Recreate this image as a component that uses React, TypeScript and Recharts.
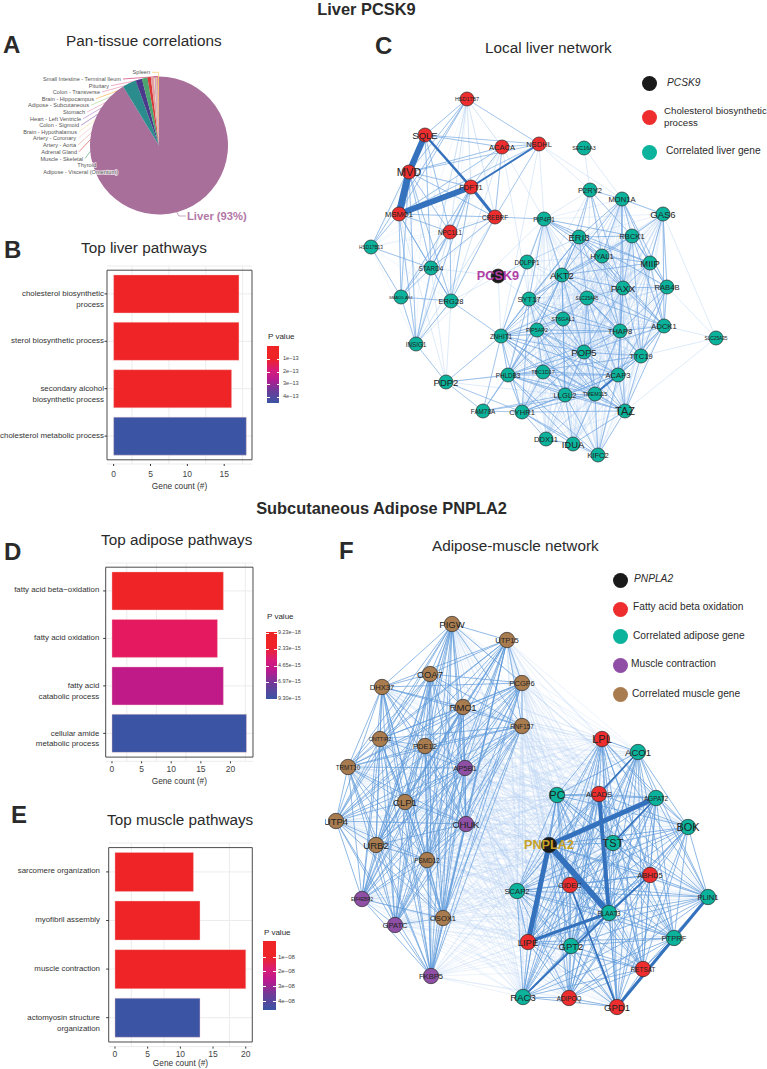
import {
  Bar,
  BarChart,
  CartesianGrid,
  Cell,
  ComposedChart,
  Line,
  Pie,
  PieChart,
  ReferenceArea,
  Scatter,
  XAxis,
  YAxis,
} from 'recharts';

const FONT = '"Liberation Sans", Arial, sans-serif';
const RED = '#ee2426';
const BLUE = '#3b54a4';

// panel A
const tissueNames = [
  'Liver', 'Adipose - Visceral (Omentum)', 'Thyroid', 'Muscle - Skeletal', 'Adrenal Gland', 'Artery - Aorta',
  'Artery - Coronary', 'Brain - Hypothalamus', 'Colon - Sigmoid', 'Heart - Left Ventricle', 'Stomach',
  'Adipose - Subcutaneous', 'Brain - Hippocampus', 'Colon - Transverse', 'Pituitary',
  'Small Intestine - Terminal Ileum', 'Spleen',
];
const tissueShares = [91.4, 3.2, 1.5, 1.3, 0.8, 0.7, 0.1, 0.1, 0.1, 0.1, 0.1, 0.1, 0.1, 0.1, 0.1, 0.1, 0.2];
const tissueColors = [
  '#a86f9b', '#2a8c8c', '#4b3a8c', '#4aa56e', '#d83a3a', '#e3a0a0', '#f4c6c6', '#f5dd9a', '#8a5aa8', '#b07cc6',
  '#e79ab5', '#a5d28a', '#f2a93b', '#e887a8', '#e8749a', '#c2185b', '#f2c14e',
];
const tissueLabelX = [0, 118, 96, 83, 77, 76, 76, 77, 79, 81, 85, 89, 94, 100, 109, 121, 150];
const tissueLabelY = [216, 171.5, 165, 158.5, 151.7, 145, 138.3, 131.7, 125.3, 118.7, 112, 105.3, 98.7, 92, 85.7, 79, 72.3];

// panel B
const liverPathways = ['cholesterol biosynthetic\nprocess', 'sterol biosynthetic process', 'secondary alcohol\nbiosynthetic process', 'cholesterol metabolic process'];
const liverCounts = [17, 17, 16, 18];
const liverBarColors = [RED, RED, RED, BLUE];
const liverTicks = [0, 5, 10, 15];

// panel D
const adiposePathways = ['fatty acid beta\u2212oxidation', 'fatty acid oxidation', 'fatty acid\ncatabolic process', 'cellular amide\nmetabolic process'];
const adiposeCounts = [18.8, 17.8, 18.8, 22.7];
const adiposeBarColors = [RED, '#e5195f', '#c01a88', BLUE];
const adiposeTicks = [0, 5, 10, 15, 20];

// panel E
const musclePathways = ['sarcomere organization', 'myofibril assembly', 'muscle contraction', 'actomyosin structure\norganization'];
const muscleCounts = [12, 13, 20, 13];
const muscleBarColors = [RED, RED, RED, BLUE];
const muscleTicks = [0, 5, 10, 15, 20];

type Gene = [string, number, number];

// panel C layout
const liverTarget: Gene[] = [['PCSK9', 498, 276]];
const liverCholesterol: Gene[] = [
  ['HSD17B7', 467, 99], ['SQLE', 425, 135], ['ACACA', 502, 147], ['NSDHL', 539, 144], ['MVD', 409, 172],
  ['FDFT1', 471, 187], ['MSMO1', 399, 214], ['CREBRF', 495, 217], ['NPC1L1', 450, 232],
];
const liverCorrelated: Gene[] = [
  ['SEC16A3', 584, 148], ['P2RY2', 590, 190], ['MON1A', 622, 199], ['GAS6', 663, 214], ['PIP4P1', 544, 219],
  ['ERI3', 579, 237], ['RBCK1', 632, 236], ['HSD17B13', 371, 247], ['HYAL1', 602, 256], ['MIIP', 650, 263],
  ['STARD4', 431, 268], ['DOLPP1', 527, 262], ['AKT2', 562, 275], ['PAXX', 623, 288], ['RAB4B', 667, 287],
  ['SMAD5-AS1', 401, 297], ['ERG28', 451, 301], ['SYT17', 529, 299], ['SLC25A45', 587, 298], ['ST6GAL1', 563, 319],
  ['ZNHIT1', 501, 336], ['PIP5AP2', 537, 330], ['THAP8', 620, 331], ['ADCK1', 664, 326], ['SLC25A35', 716, 338],
  ['INSIG1', 416, 344], ['POP5', 584, 352], ['TTC19', 641, 356], ['TBC1D17', 543, 372], ['PHLDB3', 508, 375],
  ['ACAP3', 618, 375], ['PDP2', 446, 382], ['LLGL2', 565, 395], ['TMEM115', 595, 394], ['FAM78A', 483, 411],
  ['CYHR1', 522, 412], ['TAZ', 625, 411], ['DDX11', 546, 439], ['IDUA', 573, 444], ['KIFC2', 598, 455],
];
const liverThick: [string, string, number][] = [
  ['SQLE', 'MVD', 6], ['MVD', 'MSMO1', 7], ['MSMO1', 'FDFT1', 6], ['SQLE', 'FDFT1', 2.5], ['FDFT1', 'CREBRF', 3],
  ['FDFT1', 'NSDHL', 2], ['ACAP3', 'TMEM115', 1.8],
];
const liverStars = [
  'HSD17B7 SQLE MVD MSMO1 NSDHL HSD17B13',
  'SQLE ACACA NSDHL MSMO1 HSD17B13 NPC1L1 CREBRF STARD4',
  'ACACA NSDHL MVD CREBRF MSMO1 FDFT1',
  'NSDHL CREBRF MVD MSMO1',
  'MVD FDFT1 CREBRF NPC1L1 STARD4 SMAD5-AS1 ERG28 INSIG1',
  'FDFT1 NPC1L1 STARD4 ERG28 INSIG1 SMAD5-AS1',
  'MSMO1 CREBRF NPC1L1 STARD4 ERG28 SMAD5-AS1 INSIG1 HSD17B13',
  'CREBRF NPC1L1 STARD4 PIP4P1 ERG28',
  'NPC1L1 STARD4 ERG28 SMAD5-AS1',
  'STARD4 ERG28 SMAD5-AS1 INSIG1 HSD17B13',
  'ERG28 SMAD5-AS1 INSIG1 ZNHIT1',
  'SMAD5-AS1 INSIG1 HSD17B13',
  'PDP2 INSIG1 FAM78A CYHR1 ZNHIT1 PHLDB3',
  'PIP4P1 ERI3 AKT2 RBCK1 HYAL1 PAXX SYT17 ZNHIT1 MIIP',
  'ERI3 RBCK1 HYAL1 MIIP AKT2 PAXX RAB4B SYT17 PIP5AP2 ZNHIT1 THAP8 ADCK1 SLC25A45',
  'P2RY2 MON1A ERI3 RBCK1 HYAL1 AKT2 PAXX',
  'MON1A ERI3 RBCK1 GAS6 HYAL1 MIIP PAXX RAB4B AKT2 THAP8',
  'GAS6 RBCK1 MIIP RAB4B ADCK1',
  'RBCK1 HYAL1 MIIP PAXX RAB4B ADCK1 AKT2 TTC19',
  'HYAL1 MIIP AKT2 PAXX SYT17 THAP8 ADCK1',
  'MIIP RAB4B PAXX ADCK1 TTC19 AKT2',
  'AKT2 SYT17 SLC25A45 PAXX ZNHIT1 PIP5AP2 ST6GAL1 POP5 THAP8 PHLDB3 LLGL2 ADCK1',
  'PAXX RAB4B SLC25A45 THAP8 ADCK1 POP5 TTC19 ACAP3',
  'RAB4B ADCK1 THAP8 TTC19 ACAP3',
  'SYT17 ZNHIT1 PIP5AP2 ST6GAL1 PHLDB3 POP5 THAP8 CYHR1 TMEM115',
  'SLC25A45 THAP8 POP5 ST6GAL1 ZNHIT1 TTC19 ACAP3 TMEM115 ADCK1',
  'ST6GAL1 PIP5AP2 ZNHIT1 POP5 THAP8 LLGL2 PHLDB3',
  'ZNHIT1 PIP5AP2 THAP8 POP5 TBC1D17 PHLDB3 LLGL2 TMEM115 TAZ CYHR1 FAM78A ACAP3',
  'PIP5AP2 THAP8 POP5 PHLDB3 TBC1D17 TMEM115 LLGL2 FAM78A ACAP3 TAZ',
  'THAP8 ADCK1 POP5 TTC19 ACAP3 TMEM115 PHLDB3 TAZ',
  'ADCK1 TTC19 ACAP3 POP5 TAZ TMEM115',
  'POP5 TTC19 TBC1D17 PHLDB3 ACAP3 LLGL2 TMEM115 TAZ CYHR1',
  'TTC19 ACAP3 TMEM115 LLGL2 TAZ PHLDB3',
  'TBC1D17 PHLDB3 ACAP3 LLGL2 TMEM115 CYHR1 TAZ',
  'PHLDB3 ACAP3 LLGL2 TMEM115 CYHR1 FAM78A TAZ KIFC2 IDUA',
  'ACAP3 LLGL2 TMEM115 TAZ CYHR1 KIFC2',
  'LLGL2 TMEM115 CYHR1 TAZ KIFC2 IDUA FAM78A',
  'TMEM115 TAZ CYHR1 KIFC2 IDUA FAM78A',
  'CYHR1 FAM78A TAZ IDUA KIFC2 DDX11',
  'TAZ KIFC2 IDUA',
  'IDUA KIFC2 DDX11',
];
const liverFaintStars = [
  'PCSK9 DOLPP1 SYT17 ERG28 ZNHIT1 AKT2 STARD4 ERI3',
  'SEC16A3 P2RY2 MON1A',
  'SLC25A35 ADCK1 TTC19 RAB4B GAS6 TAZ',
  'HSD17B7 ACACA FDFT1 CREBRF NPC1L1 INSIG1',
  'NSDHL PIP4P1 P2RY2 ZNHIT1 MON1A',
  'DOLPP1 ERI3 AKT2 SYT17 HYAL1 PIP4P1 SLC25A45 ZNHIT1 POP5',
  'INSIG1 ERG28 NPC1L1 CREBRF PIP4P1',
  'PDP2 ERG28 MSMO1 STARD4 TBC1D17 LLGL2',
  'P2RY2 SYT17 THAP8 SLC25A45 PIP4P1',
  'ACACA PIP4P1 SYT17 ERG28',
];
const liverDenseModule = [
  'PIP4P1', 'ERI3', 'RBCK1', 'HYAL1', 'MIIP', 'AKT2', 'PAXX', 'RAB4B', 'SYT17', 'SLC25A45', 'ST6GAL1', 'ZNHIT1',
  'PIP5AP2', 'THAP8', 'ADCK1', 'POP5', 'TTC19', 'TBC1D17', 'PHLDB3', 'ACAP3', 'LLGL2', 'TMEM115', 'CYHR1', 'TAZ',
  'IDUA', 'KIFC2', 'DDX11', 'GAS6', 'MON1A',
];
const liverLeftModule = [
  'HSD17B7', 'SQLE', 'ACACA', 'MVD', 'FDFT1', 'MSMO1', 'CREBRF', 'NPC1L1', 'HSD17B13', 'STARD4', 'SMAD5-AS1', 'ERG28', 'INSIG1',
];

// panel F layout
const adiposeTarget: Gene[] = [['PNPLA2', 549, 845]];
const adiposeOxidation: Gene[] = [
  ['LPL', 602, 739], ['ACADS', 599, 794], ['ABHD5', 650, 875], ['CIDEC', 570, 885], ['LIPE', 528, 942],
  ['RETSAT', 643, 969], ['ADIPOQ', 569, 998], ['GPD1', 617, 1007],
];
const adiposeCorrelated: Gene[] = [
  ['ACO1', 638, 752], ['PC', 557, 795], ['AGPAT2', 656, 798], ['BOK', 688, 827], ['TST', 613, 843], ['SCAP2', 517, 891],
  ['PLIN1', 708, 897], ['PLAAT3', 609, 913], ['PTPRF', 674, 938], ['GPT2', 571, 946], ['RAC3', 523, 997],
];
const muscleContraction: Gene[] = [
  ['AP5B1', 465, 768], ['CHUK', 466, 824], ['EIF4EBP2', 362, 899], ['GPATC', 395, 925], ['FKBP5', 431, 976],
];
const muscleCorrelated: Gene[] = [
  ['PIGW', 452, 624], ['UTP15', 507, 640], ['COA7', 430, 674], ['PCGF6', 522, 683], ['DHX37', 382, 687],
  ['RMC1', 463, 707], ['RNF157', 522, 726], ['CNTTIP2', 380, 739], ['PDE12', 425, 746], ['TRMT10', 348, 767],
  ['CLP1', 405, 802], ['UTP4', 336, 821], ['URB2', 376, 845], ['PSMD12', 427, 860], ['OSOX1', 443, 918],
];
const adiposeThick: [string, string, number][] = [
  ['PNPLA2', 'AGPAT2', 5], ['PNPLA2', 'PLAAT3', 6], ['PNPLA2', 'LIPE', 5], ['ACADS', 'PLAAT3', 4], ['LIPE', 'PLAAT3', 3],
  ['GPD1', 'PLIN1', 3], ['GPD1', 'PTPRF', 1.8], ['RAC3', 'PLAAT3', 1.8], ['ABHD5', 'PLAAT3', 1.8], ['CIDEC', 'GPD1', 1.8],
  ['ACO1', 'ACADS', 1.5], ['AGPAT2', 'TST', 1.5],
];

type Star = { sources: string[]; color: string; width: number; opacity: number };

const namesOf = (...groups: Gene[][]) => groups.flat().map((g) => g[0]);

const cliqueStars = (names: string[]) => names.map((n, i) => [n, ...names.slice(i + 1)].join(' '));

const crossStars = (from: string[], to: string[]) => from.map((n) => [n, ...to].join(' '));

function starRows(star: string, lookup: Map<string, Gene>) {
  const [source, ...targets] = star.split(' ');
  const a = lookup.get(source) as Gene;
  return targets.flatMap((name) => {
    const b = lookup.get(name) as Gene;
    return [{ x: a[1], y: a[2] }, { x: b[1], y: b[2] }, { x: b[1], y: null }];
  });
}

function GeneNode(props: any) {
  const { cx, cy, payload, fill, radius, accent } = props;
  const name: string = payload.name;
  const size = Math.min(11, 38 / name.length);
  return (
    <g>
      <circle cx={cx} cy={cy} r={radius} fill={fill} stroke="#2b2b2b" strokeWidth={0.7} />
      <text
        x={cx}
        y={cy}
        textAnchor="middle"
        dominantBaseline="central"
        fontFamily={FONT}
        fontSize={accent ? 12.7 : size}
        fontWeight={accent ? 700 : 400}
        fill={accent || '#222'}
      >
        {name}
      </text>
    </g>
  );
}

function Network({ left, top, width, height, groups, stars, thick, radius }: any) {
  const all: Gene[] = groups.flatMap((g: any) => g.genes);
  const lookup = new Map(all.map((g) => [g[0], g] as [string, Gene]));
  const strokes: { rows: any[]; color: string; width: number; opacity: number }[] = [];
  stars.forEach((tier: Star) => {
    tier.sources.forEach((s) => {
      strokes.push({ rows: starRows(s, lookup), color: tier.color, width: tier.width, opacity: tier.opacity });
    });
  });
  return (
    <div style={{ position: 'absolute', left, top }}>
      <ComposedChart width={width} height={height} margin={{ top: 0, right: 0, bottom: 0, left: 0 }}>
        <XAxis hide type="number" dataKey="x" domain={[left, left + width]} allowDataOverflow />
        <YAxis hide reversed type="number" dataKey="y" domain={[top, top + height]} allowDataOverflow />
        {strokes.map((s, i) => (
          <Line
            key={'s' + i}
            data={s.rows}
            dataKey="y"
            stroke={s.color}
            strokeWidth={s.width}
            strokeOpacity={s.opacity}
            dot={false}
            activeDot={false}
            legendType="none"
            isAnimationActive={false}
          />
        ))}
        {thick.map(([a, b, w]: [string, string, number], i: number) => (
          <Line
            key={'t' + i}
            data={starRows(a + ' ' + b, lookup)}
            dataKey="y"
            stroke="#3572bd"
            strokeWidth={w}
            dot={false}
            activeDot={false}
            legendType="none"
            isAnimationActive={false}
          />
        ))}
        {groups.map((g: any, i: number) => (
          <Scatter
            key={'g' + i}
            data={g.genes.map((n: Gene) => ({ name: n[0], x: n[1], y: n[2] }))}
            fill={g.fill}
            shape={(p: any) => <GeneNode {...p} fill={g.fill} radius={radius} accent={g.accent} />}
            isAnimationActive={false}
          />
        ))}
      </ComposedChart>
    </div>
  );
}

function CategoryTick({ x, y, payload, gap }: any) {
  const lines = String(payload.value).split('\n');
  const first = lines.length > 1 ? y : y - 1;
  return (
    <g>
      <line x1={x - 2.5} x2={x} y1={y} y2={y} stroke="#333" strokeWidth={1} />
      {lines.map((t, i) => (
        <text key={t} x={x - gap} y={first + i * 10.5} textAnchor="end" dominantBaseline="central" fontFamily={FONT} fontSize={7.9} fill="#333">
          {t}
        </text>
      ))}
    </g>
  );
}

function PathwayBars({ names, counts, colors, ticks, domain, box, pad, labelDy, gap, tickGap }: any) {
  const rows = names.map((name: string, i: number) => ({ name, count: counts[i] }));
  const minor = [...ticks, ...ticks.map((t: number) => t + 2.5)].filter((t: number) => t < domain[1]);
  const bottom = 32;
  return (
    <div style={{ position: 'absolute', left: 0, top: box.top - 2 }}>
      <BarChart
        layout="vertical"
        width={box.right + 4}
        height={box.bottom - box.top + 2 + bottom}
        data={rows}
        barCategoryGap="10%"
        margin={{ top: 2, right: 4, bottom: 0, left: 0 }}
      >
        <CartesianGrid stroke="#ececec" strokeWidth={1} verticalValues={minor} />
        <XAxis
          type="number"
          domain={domain}
          ticks={ticks}
          allowDataOverflow
          height={bottom}
          axisLine={false}
          tickSize={2}
          tickMargin={tickGap}
          tick={{ fontSize: 8.5, fill: '#444', fontFamily: FONT }}
          tickLine={{ stroke: '#333' }}
          label={{ value: 'Gene count (#)', position: 'insideBottom', offset: labelDy, fontSize: 8.3, fill: '#333', fontFamily: FONT }}
        />
        <YAxis
          type="category"
          dataKey="name"
          width={box.left}
          padding={{ top: pad, bottom: pad }}
          axisLine={false}
          tickLine={false}
          tickSize={0}
          tick={<CategoryTick gap={gap} />}
          tickMargin={0}
          interval={0}
        />
        <Bar dataKey="count" isAnimationActive={false}>
          {rows.map((r: any, i: number) => (
            <Cell key={r.name} fill={colors[i]} stroke="#f4c7c8" strokeWidth={0.4} />
          ))}
        </Bar>
        <ReferenceArea x1={domain[0]} x2={domain[1]} fill="none" stroke="#4a4a4a" strokeWidth={1} />
      </BarChart>
    </div>
  );
}

function Txt({ x, y, size, children, bold, italic, color, anchor }: any) {
  const shift = anchor === 'middle' ? '-50%' : '0';
  return (
    <div
      style={{
        position: 'absolute',
        left: x,
        top: y,
        transform: `translate(${shift}, -50%)`,
        fontFamily: FONT,
        fontSize: size,
        fontWeight: bold ? 700 : 400,
        fontStyle: italic ? 'italic' : 'normal',
        color: color || '#2a2a2a',
        lineHeight: 1,
        whiteSpace: 'nowrap',
      }}
    >
      {children}
    </div>
  );
}

function Dot({ x, y, color }: any) {
  return <div style={{ position: 'absolute', left: x - 7.5, top: y - 7.5, width: 15, height: 15, borderRadius: '50%', background: color }} />;
}

function PValue({ x, y, w, h, titleY, labels, labelX, labelYs, labelSize }: any) {
  return (
    <>
      <Txt x={x + 1} y={titleY} size={8}>P value</Txt>
      <div style={{ position: 'absolute', left: x, top: y, width: w, height: h, background: `linear-gradient(${RED} 0%, ${RED} 22%, #d81b78 42%, #b81a90 58%, #6d3c98 78%, ${BLUE} 100%)` }} />
      {labels.map((t: string, i: number) => (
        <div key={t}>
          <div style={{ position: 'absolute', left: x + w - 2.5, top: labelYs[i], width: 2.5, height: 1, background: '#fff' }} />
          <div style={{ position: 'absolute', left: x, top: labelYs[i], width: 2.5, height: 1, background: '#fff' }} />
          <Txt x={labelX} y={labelYs[i]} size={labelSize} color="#444">{t}</Txt>
        </div>
      ))}
    </>
  );
}

function leaderLine(props: any) {
  const { cx, cy, midAngle, outerRadius, index } = props;
  const a = (-midAngle * Math.PI) / 180;
  const px = cx + outerRadius * Math.cos(a);
  const py = cy + outerRadius * Math.sin(a);
  const color = tissueColors[index];
  if (index === 0) return <path key={index} d={`M176 211 L179 216 L186 216`} fill="none" stroke={color} strokeWidth={0.6} />;
  const lx = tissueLabelX[index];
  const ly = tissueLabelY[index];
  if (index === tissueNames.length - 1) {
    return <path key={index} d={`M${lx + 2} ${ly} L${px} ${ly} L${px} ${py}`} fill="none" stroke={color} strokeWidth={0.6} />;
  }
  return <path key={index} d={`M${lx + 2} ${ly} L${px} ${py}`} fill="none" stroke={color} strokeWidth={0.6} />;
}

function tissueText(props: any) {
  const { index } = props;
  if (index === 0) {
    return (
      <text key={index} x={187} y={216} dominantBaseline="central" fontFamily={FONT} fontWeight={700} fontSize={11.2} fill="#b277a6">
        Liver (93%)
      </text>
    );
  }
  return (
    <text
      key={index}
      x={tissueLabelX[index]}
      y={tissueLabelY[index]}
      textAnchor="end"
      dominantBaseline="central"
      fontFamily={FONT}
      fontSize={5.6}
      fill="#555"
      stroke={index < 3 ? 'rgba(255,255,255,0.75)' : 'none'}
      strokeWidth={1.4}
      paintOrder="stroke"
    >
      {tissueNames[index]}
    </text>
  );
}

const tissueRows = tissueNames.map((name, i) => ({ name, share: tissueShares[i] }));

export default function App() {
  return (
    <div style={{ position: 'absolute', left: 0, top: 0, width: 767, height: 1069, overflow: 'hidden', background: '#fff' }}>
      <div style={{ position: 'absolute', left: 0, top: 0 }}>
        <PieChart width={340} height={240} margin={{ top: 0, right: 0, bottom: 0, left: 0 }}>
          <Pie data={tissueRows} dataKey="share" cx={159} cy={145.5} outerRadius={69} startAngle={90} endAngle={-270} fill="none" stroke="none" label={leaderLine} labelLine={false} isAnimationActive={false} />
        </PieChart>
      </div>
      <div style={{ position: 'absolute', left: 0, top: 0 }}>
        <PieChart width={340} height={240} margin={{ top: 0, right: 0, bottom: 0, left: 0 }}>
          <Pie data={tissueRows} dataKey="share" cx={159} cy={145.5} outerRadius={69} startAngle={90} endAngle={-270} stroke="none" label={tissueText} labelLine={false} isAnimationActive={false}>
            {tissueRows.map((r, i) => (
              <Cell key={r.name} fill={tissueColors[i]} />
            ))}
          </Pie>
        </PieChart>
      </div>

      <PathwayBars names={liverPathways} counts={liverCounts} colors={liverBarColors} ticks={liverTicks} domain={[-0.9, 18.77]} box={{ left: 107, right: 252, top: 266, bottom: 464 }} pad={4.2} labelDy={7} gap={3} tickGap={5} />
      <PathwayBars names={adiposePathways} counts={adiposeCounts} colors={adiposeBarColors} ticks={adiposeTicks} domain={[-1.06, 23.8]} box={{ left: 105.7, right: 253, top: 562.7, bottom: 761 }} pad={4.2} labelDy={9} gap={6.4} tickGap={3} />
      <PathwayBars names={musclePathways} counts={muscleCounts} colors={muscleBarColors} ticks={muscleTicks} domain={[-0.96, 21]} box={{ left: 108.7, right: 252.3, top: 842.7, bottom: 1046.3 }} pad={4.6} labelDy={13} gap={8.7} tickGap={2} />

      <Network
        left={325}
        top={80}
        width={442}
        height={395}
        radius={7}
        thick={liverThick}
        stars={[
          { sources: cliqueStars(liverLeftModule), color: '#a9caf0', width: 0.7, opacity: 0.25 },
          { sources: cliqueStars(liverDenseModule), color: '#9cc3ee', width: 0.7, opacity: 0.35 },
          { sources: liverFaintStars, color: '#a9caf0', width: 0.7, opacity: 0.55 },
          { sources: liverStars, color: '#6ea3df', width: 0.8, opacity: 0.8 },
        ]}
        groups={[
          { genes: liverCholesterol, fill: '#ee2e2e' },
          { genes: liverCorrelated, fill: '#0bb39c' },
          { genes: liverTarget, fill: '#1a1a1a', accent: '#b23fa4' },
        ]}
      />

      <Network
        left={325}
        top={610}
        width={442}
        height={415}
        radius={7.7}
        thick={adiposeThick}
        stars={[
          { sources: crossStars(namesOf(muscleCorrelated, muscleContraction), namesOf(adiposeTarget, adiposeOxidation, adiposeCorrelated)), color: '#a9caf0', width: 0.7, opacity: 0.32 },
          { sources: cliqueStars(namesOf(muscleCorrelated, muscleContraction)), color: '#5b98d8', width: 1, opacity: 0.68 },
          { sources: cliqueStars(namesOf(adiposeTarget, adiposeOxidation, adiposeCorrelated)), color: '#5b98d8', width: 1, opacity: 0.68 },
        ]}
        groups={[
          { genes: muscleCorrelated, fill: '#a97c50' },
          { genes: muscleContraction, fill: '#8e4fa5' },
          { genes: adiposeCorrelated, fill: '#0bb39c' },
          { genes: adiposeOxidation, fill: '#ee2e2e' },
          { genes: adiposeTarget, fill: '#1a1a1a', accent: '#c9a227' },
        ]}
      />

      <Txt x={366.5} y={8.5} size={16.4} bold anchor="middle">Liver PCSK9</Txt>
      <Txt x={381.5} y={508} size={16.4} bold anchor="middle">Subcutaneous Adipose PNPLA2</Txt>

      <Txt x={3} y={45} size={24} bold>A</Txt>
      <Txt x={4} y={250} size={24} bold>B</Txt>
      <Txt x={375} y={46} size={24} bold>C</Txt>
      <Txt x={4} y={552} size={24} bold>D</Txt>
      <Txt x={11} y={815} size={24} bold>E</Txt>
      <Txt x={339} y={551} size={24} bold>F</Txt>

      <Txt x={66} y={41} size={15.3}>Pan-tissue correlations</Txt>
      <Txt x={81} y={248} size={15.3}>Top liver pathways</Txt>
      <Txt x={485} y={48} size={15.3}>Local liver network</Txt>
      <Txt x={101} y={540} size={15.3}>Top adipose pathways</Txt>
      <Txt x={107} y={820} size={15.3}>Top muscle pathways</Txt>
      <Txt x={432} y={546} size={15.3}>Adipose-muscle network</Txt>

      <PValue x={267} y={346} w={12} h={57} titleY={337} labels={['1e\u221213', '2e\u221213', '3e\u221213', '4e\u221213']} labelX={283} labelYs={[359, 372, 384, 397]} labelSize={5.6} />
      <PValue x={266} y={632} w={10.7} h={67} titleY={617} labels={['9.23e\u221218', '2.33e\u221215', '4.65e\u221215', '6.97e\u221215', '9.30e\u221215']} labelX={278} labelYs={[632.7, 649, 665.7, 682, 698.7]} labelSize={5.4} />
      <PValue x={263} y={941} w={12.7} h={69} titleY={933} labels={['1e\u221208', '2e\u221208', '3e\u221208', '4e\u221208']} labelX={278} labelYs={[956.7, 971, 986, 1000.7]} labelSize={6} />

      <Dot x={649} y={83} color="#1a1a1a" />
      <Dot x={649} y={117} color="#ee2e2e" />
      <Dot x={649} y={152} color="#0bb39c" />
      <Txt x={667} y={83} size={10.2} italic>PCSK9</Txt>
      <Txt x={664} y={111} size={9.7}>Cholesterol biosynthetic</Txt>
      <Txt x={664} y={123} size={9.7}>process</Txt>
      <Txt x={666} y={151} size={10.2}>Correlated liver gene</Txt>

      <Dot x={620} y={580} color="#1a1a1a" />
      <Dot x={620} y={609} color="#ee2e2e" />
      <Dot x={620} y={636} color="#0bb39c" />
      <Dot x={620} y={665} color="#8e4fa5" />
      <Dot x={620} y={694} color="#a97c50" />
      <Txt x={634} y={579} size={10.2} italic>PNPLA2</Txt>
      <Txt x={633} y={607} size={10.2}>Fatty acid beta oxidation</Txt>
      <Txt x={633} y={636} size={10.2}>Correlated adipose gene</Txt>
      <Txt x={631} y={664} size={10.2}>Muscle contraction</Txt>
      <Txt x={632} y={694} size={10.2}>Correlated muscle gene</Txt>
    </div>
  );
}
